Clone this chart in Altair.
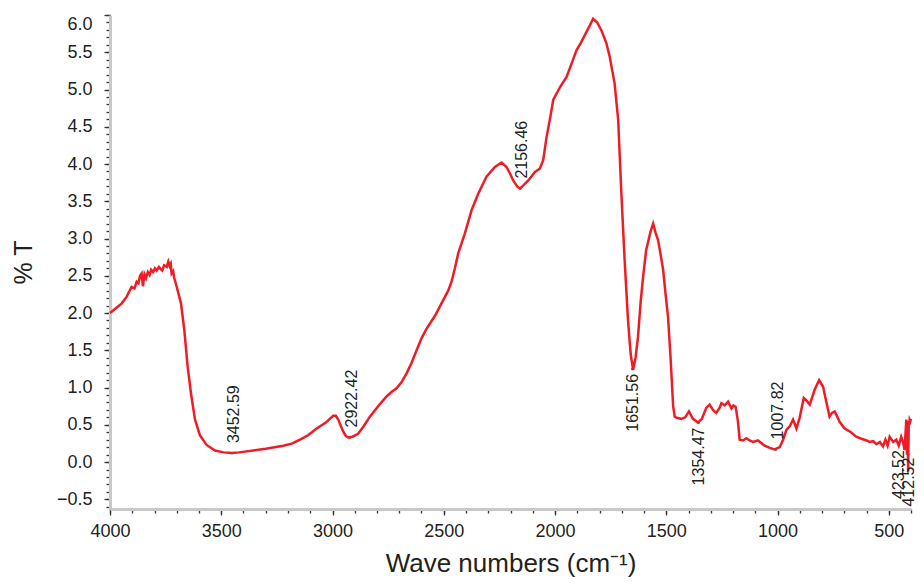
import altair as alt
import pandas as pd

# ---- data ----
wavenumber = [4000, 3975, 3947, 3925, 3903, 3890, 3880, 3872, 3865, 3858, 3852, 3845, 3838, 3830, 3822,
              3815, 3806, 3798, 3790, 3780, 3772, 3765, 3757, 3745, 3738, 3732, 3727, 3723, 3716, 3712,
              3700, 3681, 3666, 3651, 3636, 3618, 3596, 3566, 3528, 3490,
              3453, 3420, 3394, 3349, 3300, 3260, 3221, 3180, 3146, 3110, 3071, 3030, 2997, 2985, 2974,
              2962, 2952, 2940, 2929, 2910, 2885, 2860, 2832, 2795, 2757, 2735, 2712, 2690, 2667, 2645,
              2622, 2600, 2577, 2540, 2503, 2480, 2465, 2450, 2435, 2405, 2375, 2345, 2308, 2270, 2240,
              2218, 2200, 2188, 2170, 2158, 2140, 2120, 2091, 2068, 2053, 2038, 2020, 2008, 1978, 1948,
              1925, 1903, 1885, 1866, 1845, 1829, 1810, 1791, 1770, 1754, 1732, 1716, 1701, 1687, 1672,
              1660, 1649, 1638, 1627, 1615, 1604, 1590, 1582, 1570, 1559, 1548, 1537, 1525, 1514, 1503,
              1492, 1480, 1469, 1462, 1450, 1432, 1415, 1398, 1380, 1357, 1340, 1320, 1305, 1290, 1275,
              1260, 1252, 1237, 1222, 1207, 1198, 1188, 1178, 1170, 1155, 1140, 1125, 1110, 1088, 1058,
              1035, 1013, 990, 975, 960, 945, 930, 915, 900, 882, 868, 855, 845, 833, 813,
              795, 780, 766, 755, 743, 730, 721, 698, 670, 646, 620, 600, 586, 570, 555,
              540, 526, 515, 505, 496, 480, 466, 455, 444, 435, 429, 424, 421, 418, 415,
              413, 410, 408, 406, 403, 400]
transmittance = [2.00, 2.06, 2.13, 2.22, 2.35, 2.33, 2.42, 2.40, 2.50, 2.53, 2.36, 2.52, 2.47, 2.55, 2.51,
                 2.58, 2.55, 2.60, 2.57, 2.62, 2.59, 2.57, 2.64, 2.62, 2.69, 2.63, 2.66, 2.53, 2.56, 2.48,
                 2.35, 2.13, 1.77, 1.28, 0.92, 0.57, 0.36, 0.23, 0.155, 0.13,
                 0.12, 0.13, 0.14, 0.16, 0.18, 0.20, 0.22, 0.25, 0.30, 0.36, 0.45, 0.53, 0.62, 0.62, 0.57,
                 0.48, 0.41, 0.35, 0.33, 0.34, 0.38, 0.48, 0.61, 0.75, 0.88, 0.94, 0.99, 1.07, 1.19, 1.33,
                 1.50, 1.66, 1.79, 1.96, 2.17, 2.30, 2.42, 2.60, 2.80, 3.07, 3.38, 3.60, 3.83, 3.96, 4.02,
                 3.96, 3.86, 3.78, 3.70, 3.67, 3.72, 3.78, 3.89, 3.94, 4.05, 4.36, 4.65, 4.86, 5.03, 5.17,
                 5.35, 5.53, 5.62, 5.73, 5.85, 5.95, 5.90, 5.79, 5.63, 5.44, 5.08, 4.59, 3.56, 2.71, 1.91,
                 1.45, 1.24, 1.40, 1.68, 2.15, 2.49, 2.85, 2.95, 3.10, 3.20, 3.08, 2.98, 2.78, 2.58, 2.25,
                 1.95, 1.37, 0.75, 0.61, 0.59, 0.58, 0.60, 0.68, 0.58, 0.53, 0.58, 0.73, 0.77, 0.70, 0.66,
                 0.73, 0.79, 0.76, 0.81, 0.72, 0.76, 0.74, 0.55, 0.30, 0.29, 0.32, 0.29, 0.27, 0.29, 0.22,
                 0.19, 0.17, 0.20, 0.30, 0.43, 0.48, 0.57, 0.45, 0.60, 0.86, 0.82, 0.77, 0.86, 0.97, 1.10,
                 1.01, 0.80, 0.61, 0.66, 0.68, 0.60, 0.54, 0.45, 0.40, 0.34, 0.31, 0.29, 0.27, 0.28, 0.24,
                 0.27, 0.21, 0.30, 0.22, 0.34, 0.27, 0.30, 0.22, 0.34, 0.26, 0.16, 0.42, 0.57, 0.10, 0.50,
                 -0.13, 0.55, 0.50, 0.57, 0.55, 0.58]

peaks_above_wn = [3452.59, 2922.42, 2156.46, 1007.82]
peaks_above_val = [0.12, 0.33, 3.67, 0.17]
peaks_below_wn = [1651.56, 1354.47]
peaks_below_val = [1.25, 0.53]
peak_423_wn = [423.52]
peak_423_val = [0.20]
peak_412_wn = [412.52]
peak_412_val = [0.10]

x_major_ticks = list(range(500, 4001, 500))
x_minor_ticks = list(range(400, 4001, 100))
y_major_ticks = [round(i * 0.5, 1) for i in range(-1, 13)]
y_minor_ticks = [round(i * 0.1, 1) for i in range(-6, 61)]

FONT = "Liberation Sans"
TXT = "#231f20"
RED = "#ee1c25"

spec_df = pd.DataFrame({"wn": wavenumber, "t": transmittance})
above_df = pd.DataFrame({"wn": peaks_above_wn, "t": peaks_above_val})
below_df = pd.DataFrame({"wn": peaks_below_wn, "t": peaks_below_val})
p423_df = pd.DataFrame({"wn": peak_423_wn, "t": peak_423_val})
p412_df = pd.DataFrame({"wn": peak_412_wn, "t": peak_412_val})
dots_df = pd.concat([above_df, below_df, p423_df, p412_df])

x_scale = alt.Scale(domain=[400, 4000], reverse=True, nice=False, zero=False)
y_scale = alt.Scale(domain=[-0.63, 6.0], nice=False, zero=False)

common_axis = dict(grid=False, tickColor="#333333", tickWidth=1.3, labelOverlap=False)

x_major = alt.X(
    "wn:Q", title="Wave numbers (cm⁻¹)", scale=x_scale,
    axis=alt.Axis(
        orient="bottom", values=x_major_ticks, format="d", tickSize=6, labelFlush=False,
        domainColor="#c8c8c8", domainWidth=3,
        labelFont=FONT, labelFontSize=18, labelColor=TXT, labelPadding=7,
        titleFont=FONT, titleFontSize=26, titleFontWeight="normal", titleColor=TXT, titlePadding=10,
        **common_axis,
    ),
)
y_major = alt.Y(
    "t:Q", title="% T", scale=y_scale,
    axis=alt.Axis(
        orient="left", values=y_major_ticks, format=".1f", tickSize=6, labelFlush=True,
        domainColor="#c8c8c8", domainWidth=3,
        labelFont=FONT, labelFontSize=18, labelColor=TXT, labelPadding=12,
        titleFont=FONT, titleFontSize=25, titleFontWeight="normal", titleColor=TXT, titlePadding=20,
        **common_axis,
    ),
)
x_minor = alt.X(
    "wn:Q", title=None, scale=x_scale,
    axis=alt.Axis(orient="bottom", values=x_minor_ticks, tickSize=4, labels=False, domain=False,
                  **common_axis),
)
y_minor = alt.Y(
    "t:Q", title=None, scale=y_scale,
    axis=alt.Axis(orient="left", values=y_minor_ticks, tickSize=4, labels=False, domain=False,
                  **common_axis),
)
x_plain = alt.X("wn:Q", scale=x_scale, axis=None)
y_plain = alt.Y("t:Q", scale=y_scale, axis=None)

dots = alt.Chart(dots_df).mark_circle(color="black", size=6, opacity=1).encode(x=x_minor, y=y_minor)

line = alt.Chart(spec_df).mark_line(color=RED, strokeWidth=2.5).encode(
    x=x_major, y=y_major, order="wn:Q"
)

text_style = dict(angle=270, baseline="middle", font=FONT, fontSize=16, color=TXT)

text_a = alt.Chart(above_df).mark_text(align="left", dx=10, dy=2, **text_style).encode(
    x=x_plain, y=y_plain, text=alt.Text("wn:Q", format=".2f"))
text_b = alt.Chart(below_df).mark_text(align="right", dx=-5, dy=0, **text_style).encode(
    x=x_plain, y=y_plain, text=alt.Text("wn:Q", format=".2f"))
text_423 = alt.Chart(p423_df).mark_text(align="right", dx=-3, dy=-7, **text_style).encode(
    x=x_plain, y=y_plain, text=alt.Text("wn:Q", format=".2f"))
text_412 = alt.Chart(p412_df).mark_text(align="right", dx=-3, dy=1, **text_style).encode(
    x=x_plain, y=y_plain, text=alt.Text("wn:Q", format=".2f"))

chart = alt.layer(dots, line, text_a, text_b, text_423, text_412).resolve_axis(
    x="independent", y="independent"
).properties(
    width=801, height=494,
    autosize="none",
    padding={"left": 102, "top": 7, "right": 5, "bottom": 69},
).configure_view(stroke=None)

chart.save("out.html", embed_options={"renderer": "svg", "actions": False})
